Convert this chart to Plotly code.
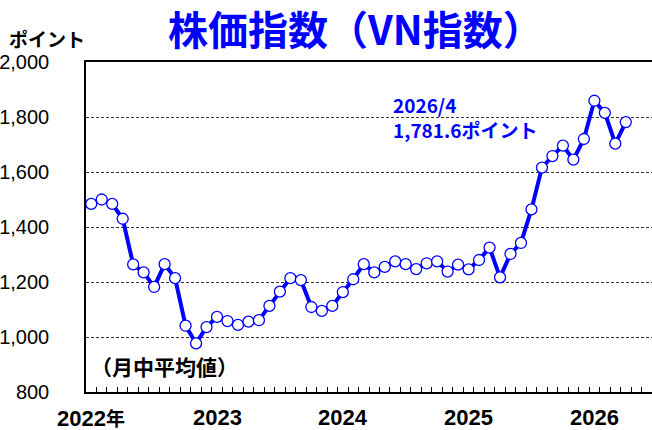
import plotly.graph_objects as go

# monthly average of VN index, 2022/1 .. 2026/4
months = list(range(52))
vn_index = [1484, 1500, 1484, 1430, 1264, 1235, 1182, 1265, 1214, 1041, 977, 1036,
            1073, 1058, 1044, 1056, 1061, 1113, 1165, 1214, 1207, 1109, 1095, 1113,
            1163, 1210, 1265, 1235, 1255, 1275, 1265, 1247, 1268, 1275, 1238, 1263,
            1246, 1280, 1325, 1217, 1302, 1342, 1464, 1616, 1658, 1696, 1645, 1720,
            1859, 1815, 1703, 1781.6]
year_pos = [0, 12, 24, 36, 48]
year_labels = ["2022年", "2023", "2024", "2025", "2026"]
y_ticks = [800, 1000, 1200, 1400, 1600, 1800, 2000]

JP = "Noto Sans CJK JP"
NUM = "Liberation Sans Narrow, Liberation Sans, Arial"
BLUE = "#0000FF"

fig = go.Figure()
fig.add_trace(go.Scatter(
    x=months, y=vn_index, mode="lines+markers",
    line=dict(color=BLUE, width=4),
    marker=dict(size=11, color="white", line=dict(color=BLUE, width=1.3)),
    showlegend=False, hoverinfo="skip"
))

# year labels under the axis
for p, t in zip(year_pos, year_labels):
    if "年" in t:
        txt = f"<b>{t[:-1]}<span style='font-family:{JP};font-size:19px'>年</span></b>"
    else:
        txt = f"<b>{t}</b>"
    fig.add_annotation(x=p, y=0, xref="x", yref="paper", text=txt,
                       showarrow=False, yanchor="middle", yshift=-25,
                       font=dict(family=NUM, size=22, color="black"))

fig.add_annotation(x=-0.139, y=1.072, xref="paper", yref="paper", text="<b>ポイント</b>",
                   showarrow=False, xanchor="left", yanchor="middle",
                   font=dict(family=JP, size=19, color="black"))
fig.add_annotation(x=0.005, y=0.079, xref="paper", yref="paper", text="<b>（月中平均値）</b>",
                   showarrow=False, xanchor="left", yanchor="middle",
                   font=dict(family=JP, size=21, color="black"))
fig.add_annotation(x=0.538, y=0.832, xref="paper", yref="paper",
                   text="<b>2026/4<br>1,781.6ポイント</b>", align="left",
                   showarrow=False, xanchor="left", yanchor="middle",
                   font=dict(family=JP, size=19, color=BLUE))

fig.update_layout(
    width=652, height=430,
    margin=dict(l=86, r=0, t=62, b=38),
    paper_bgcolor="white", plot_bgcolor="white",
    title=dict(text="<b>株価指数（VN指数）</b>", x=0.545, xref="container", xanchor="center",
               y=0.927, yref="container", yanchor="middle",
               font=dict(family=JP, size=40, color=BLUE)),
    xaxis=dict(range=[-0.5, 53.5], tick0=-0.5, dtick=1, ticks="inside", ticklen=5,
               tickcolor="black", tickwidth=1, showticklabels=False, showgrid=False,
               zeroline=False, showline=True, linecolor="black", linewidth=1.5, mirror=True,
               automargin=False),
    yaxis=dict(range=[800, 2000], tickvals=y_ticks, tickformat=",d", ticks="",
               ticklabelstandoff=31, showgrid=True, gridcolor="#333", gridwidth=1,
               griddash="3px,2px", zeroline=False, showline=True, linecolor="black",
               linewidth=1.5, tickfont=dict(family="Liberation Sans, Arial", size=20, color="black"),
               tickprefix="<b>", ticksuffix="</b>", automargin=False),
)

# drop the default 8px page margin so the figure sits at the window's corner
fig.write_html("out.html", config={"displayModeBar": False},
               post_script="document.body.style.margin='0';")
